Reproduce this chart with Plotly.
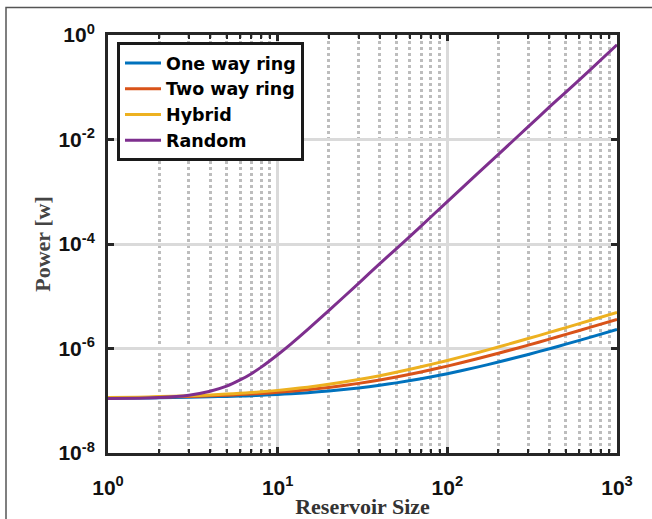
import plotly.graph_objects as go

# ---- data ----
reservoir_size = [1, 1.5, 2, 3, 4, 5, 6, 7, 8, 10, 12, 15, 20, 30, 40, 50, 70,
                  100, 150, 200, 300, 400, 500, 700, 1000]

one_way_ring = [1.12e-7, 1.13e-7, 1.14e-7, 1.17e-7, 1.19e-7, 1.21e-7, 1.23e-7, 1.25e-7,
                1.28e-7, 1.32e-7, 1.36e-7, 1.43e-7, 1.54e-7, 1.76e-7, 1.98e-7, 2.2e-7,
                2.64e-7, 3.3e-7, 4.4e-7, 5.5e-7, 7.7e-7, 9.9e-7, 1.21e-6, 1.65e-6, 2.31e-6]

two_way_ring = [1.14e-7, 1.15e-7, 1.17e-7, 1.21e-7, 1.24e-7, 1.28e-7, 1.31e-7, 1.35e-7,
                1.38e-7, 1.45e-7, 1.52e-7, 1.63e-7, 1.8e-7, 2.15e-7, 2.5e-7, 2.85e-7,
                3.55e-7, 4.6e-7, 6.35e-7, 8.1e-7, 1.16e-6, 1.51e-6, 1.86e-6, 2.56e-6, 3.61e-6]

hybrid = [1.15e-7, 1.17e-7, 1.2e-7, 1.24e-7, 1.29e-7, 1.34e-7, 1.39e-7, 1.44e-7,
          1.48e-7, 1.58e-7, 1.68e-7, 1.82e-7, 2.06e-7, 2.54e-7, 3.02e-7, 3.5e-7,
          4.46e-7, 5.9e-7, 8.3e-7, 1.07e-6, 1.55e-6, 2.03e-6, 2.51e-6, 3.47e-6, 4.91e-6]

random_net = [1.1e-7, 1.12e-7, 1.15e-7, 1.28e-7, 1.52e-7, 1.9e-7, 2.5e-7, 3.3e-7,
              4.4e-7, 7.6e-7, 1.23e-6, 2.3e-6, 5.3e-6, 1.77e-5, 4.2e-5, 8.1e-5,
              2.2e-4, 6.5e-4, 2.2e-3, 5.2e-3, 1.76e-2, 4.2e-2, 8.1e-2, 0.22, 0.65]

series_names = ["One way ring", "Two way ring", "Hybrid", "Random"]
series_values = [one_way_ring, two_way_ring, hybrid, random_net]
series_colors = ["#0072BD", "#D95319", "#EDB120", "#7E2F8E"]

x_tickvals = [1, 10, 100, 1000]
x_ticktext = ["<b>10<sup>0</sup></b>", "<b>10<sup>1</sup></b>",
              "<b>10<sup>2</sup></b>", "<b>10<sup>3</sup></b>"]
x_minor_vals = [m * d for d in (1, 10, 100) for m in range(2, 10)]
y_tickvals = [1e-8, 1e-6, 1e-4, 1e-2, 1]
y_ticktext = ["<b>10<sup>-8</sup></b>", "<b>10<sup>-6</sup></b>", "<b>10<sup>-4</sup></b>",
              "<b>10<sup>-2</sup></b>", "<b>10<sup>0</sup></b>"]

fig = go.Figure()
for name, vals, col in zip(series_names, series_values, series_colors):
    fig.add_trace(go.Scatter(x=reservoir_size, y=vals, name=name, mode="lines",
                             line=dict(color=col, width=3, shape="spline", smoothing=0.6)))

W, H = 652, 519
ml, mr, mt, mb = 108, 35, 35, 66
pw, ph = W - ml - mr, H - mt - mb

axis_common = dict(
    showline=True, linecolor="#262626", linewidth=3, mirror="ticks",
    ticks="inside", ticklen=6, tickwidth=2.5, tickcolor="#262626",
    showgrid=True, gridcolor="#dadada", gridwidth=2.5,
    zeroline=False,
    tickfont=dict(family="Liberation Sans, Arial", size=21, color="#111111"),
)

fig.update_xaxes(
    type="log", range=[0, 3], tickmode="array", tickvals=x_tickvals, ticktext=x_ticktext,
    ticklabelstandoff=14,
    minor=dict(tickmode="array", tickvals=x_minor_vals, ticks="inside", ticklen=4,
               tickwidth=2, tickcolor="#262626", showgrid=True, gridcolor="#bdbdbd",
               gridwidth=2.5, griddash="3px,3px"),
    title=dict(text="<b>Reservoir Size</b>", standoff=4,
               font=dict(family="Liberation Serif, Times New Roman", size=22, color="#333333")),
    **axis_common,
)
fig.update_yaxes(
    type="log", range=[-8, 0], tickmode="array", tickvals=y_tickvals, ticktext=y_ticktext,
    ticklabelstandoff=6,
    title=dict(text="<b>Power [w]</b>", standoff=2,
               font=dict(family="Liberation Serif, Times New Roman", size=22, color="#444444")),
    **axis_common,
)

fig.update_layout(
    width=W, height=H,
    margin=dict(l=ml, r=mr, t=mt, b=mb, autoexpand=False),
    paper_bgcolor="white", plot_bgcolor="white",
    showlegend=True,
    legend=dict(x=9 / pw, y=1 - 7 / ph, xanchor="left", yanchor="top",
                bgcolor="white", bordercolor="#1a1a1a", borderwidth=3,
                font=dict(family="DejaVu Sans, Liberation Sans", size=17.5, color="#000000",
                          weight="bold"),
                itemwidth=36, tracegroupgap=0),
    shapes=[dict(type="rect", xref="paper", yref="paper",
                 x0=(6 - ml) / pw, x1=(W + 20 - ml) / pw,
                 y0=(H - mb - (H + 20)) / ph, y1=(H - mb - 7.5) / ph,
                 line=dict(color="#555555", width=1.5), fillcolor="rgba(0,0,0,0)",
                 layer="below")],
)

fig.write_html("out.html", config={"displayModeBar": False},
               post_script="document.body.style.margin='0px';")
